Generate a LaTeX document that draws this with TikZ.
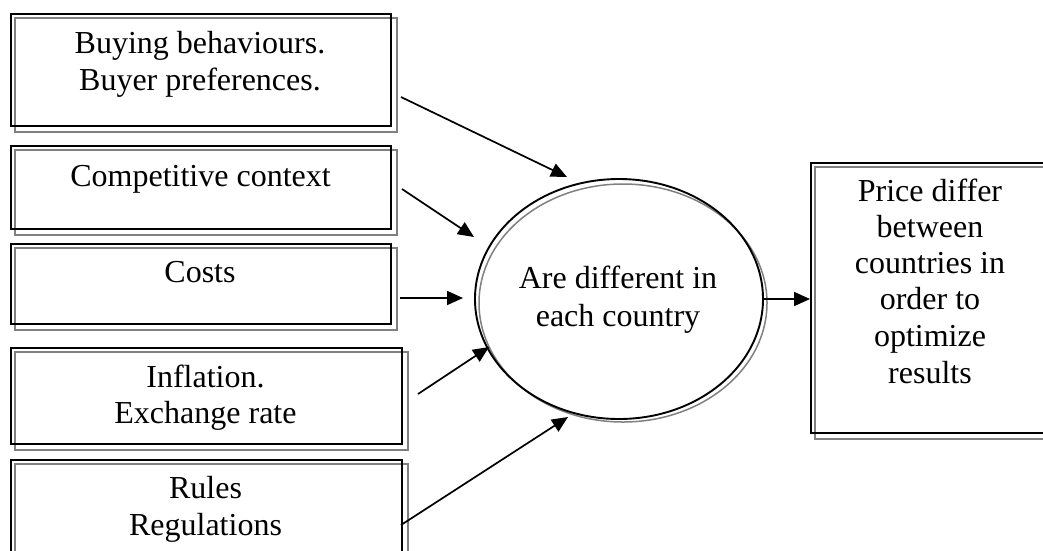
\documentclass[tikz,border=0pt]{standalone}
\usepackage{fontspec}
\setmainfont{Liberation Serif}
\usetikzlibrary{arrows.meta,shapes.geometric,backgrounds}
\begin{document}
\begin{tikzpicture}[x=1pt,y=-1pt,
  txt/.style={anchor=base,inner sep=0pt,font=\fontsize{32}{36.5}\selectfont},
  boxb/.style={draw=black,line width=1.9pt,rectangle,anchor=north west,inner sep=0pt},
  grayline/.style={draw=black!50,line width=1.5pt},
  arr/.style={line width=1.7pt,-{Triangle[length=16pt,width=14pt]}}]
\useasboundingbox (0,0) rectangle (1043,550);
\clip (0,0) rectangle (1043,550);
% boxes
\node[boxb,minimum width=380pt,minimum height=112pt] (B1) at (10,13) {};
\node[boxb,minimum width=380pt,minimum height=83pt] (B2) at (10,145) {};
\node[boxb,minimum width=380pt,minimum height=80pt] (B3) at (10,243) {};
\node[boxb,minimum width=391pt,minimum height=96pt] (B4) at (10,347) {};
\node[boxb,minimum width=391pt,minimum height=110pt] (B5) at (10,459) {};
\node[boxb,minimum width=240pt,minimum height=270pt] (R) at (810,162) {};
\node[draw=black,line width=1.9pt,ellipse,minimum width=288pt,minimum height=240pt,inner sep=0pt] (E) at (619,299) {};
\begin{scope}[on background layer]
  \foreach \b in {B1,B2,B3,B4,B5,R}{
    \draw[grayline] ([shift={(5,5)}]\b.north west) rectangle ([shift={(5,5)}]\b.south east);
  }
  \draw[grayline] (623,303) ellipse [x radius=144, y radius=119];
\end{scope}
% texts
\node[txt] (t1a) at (200,53) {Buying behaviours.};
\node[txt] (t1b) at (200,90) {Buyer preferences.};
\node[txt] (t2) at (200.5,186) {Competitive context};
\node[txt] (t3) at (200,282) {Costs};
\node[txt] (t4a) at (205.5,387) {Inflation.};
\node[txt] (t4b) at (205.5,423) {Exchange rate};
\node[txt] (t5a) at (205.5,498) {Rules};
\node[txt] (t5b) at (205.5,535) {Regulations};
\node[txt] (e1) at (618,288) {Are different in};
\node[txt] (e2) at (618,326) {each country};
\node[txt] (r1) at (930,201) {Price differ};
\node[txt] (r2) at (930,237) {between};
\node[txt] (r3) at (930,273) {countries in};
\node[txt] (r4) at (930,309) {order to};
\node[txt] (r5) at (930,346) {optimize};
\node[txt] (r6) at (930,383) {results};
% arrow ends
\coordinate (s1) at (401,97);  \coordinate (e1t) at (567,177);
\coordinate (s2) at (402,189); \coordinate (e2t) at (474,237);
\coordinate (s3) at (400,298); \coordinate (e3t) at (463,298);
\coordinate (s4) at (418,394); \coordinate (e4t) at (489,347);
\coordinate (s5) at (401,525); \coordinate (e5t) at (568,417);
\draw[arr] (s1) -- (e1t);
\draw[arr] (s2) -- (e2t);
\draw[arr] (s3) -- (e3t);
\draw[arr] (s4) -- (e4t);
\draw[arr] (s5) -- (e5t);
\draw[arr] (E.east) -- (E.east -| R.west);
\end{tikzpicture}
\end{document}
